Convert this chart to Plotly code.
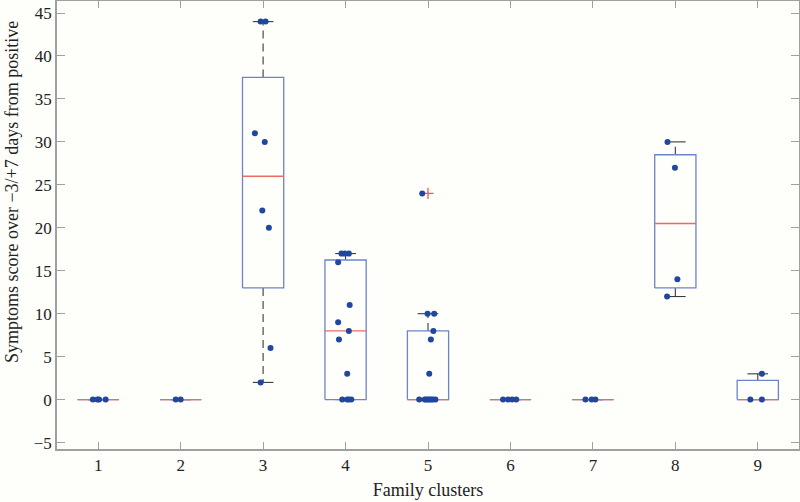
import numpy as np
import plotly.graph_objects as go

clusters = [1, 2, 3, 4, 5, 6, 7, 8, 9]
scores = [
    [0, 0, 0, 0],
    [0, 0],
    [44, 44, 31, 30, 22, 20, 6, 2],
    [17, 17, 17, 16, 11, 9, 8, 7, 3, 0, 0, 0, 0],
    [24, 10, 10, 8, 7, 3, 0, 0, 0, 0, 0, 0, 0, 0],
    [0, 0, 0, 0],
    [0, 0, 0],
    [30, 27, 14, 12],
    [3, 0, 0],
]
jitter = [
    [-0.065, -0.01, 0.01, 0.09],
    [-0.06, 0.0],
    [-0.03, 0.03, -0.1, 0.02, -0.01, 0.07, 0.09, -0.03],
    [-0.05, -0.01, 0.04, -0.09, 0.05, -0.09, 0.04, -0.08, 0.02, -0.04, 0.02, 0.04, 0.07],
    [-0.07, -0.005, 0.075, 0.065, 0.035, 0.015, -0.107, -0.04, -0.02, 0.0, 0.02, 0.04, 0.06, 0.09],
    [-0.09, -0.03, 0.02, 0.07],
    [-0.09, -0.015, 0.03],
    [-0.095, -0.005, 0.025, -0.1],
    [0.05, -0.09, 0.05],
]
x_ticks = [1, 2, 3, 4, 5, 6, 7, 8, 9]
y_ticks = [-5, 0, 5, 10, 15, 20, 25, 30, 35, 40, 45]


def mquantile(v, p):
    s = np.sort(np.asarray(v, dtype=float))
    n = len(s)
    pos = n * p + 0.5
    pos = min(max(pos, 1), n)
    lo = int(np.floor(pos))
    hi = min(lo + 1, n)
    f = pos - lo
    return s[lo - 1] + f * (s[hi - 1] - s[lo - 1])


BOX_HALF = 0.25
CAP_HALF = 0.125
box_x, box_y = [], []
wh_x, wh_y = [], []
cap_x, cap_y = [], []
med_x, med_y = [], []
out_x, out_y = [], []
for c, v in zip(clusters, scores):
    a = np.asarray(v, dtype=float)
    q1, med, q3 = mquantile(a, 0.25), mquantile(a, 0.5), mquantile(a, 0.75)
    iqr = q3 - q1
    inside = a[(a >= q1 - 1.5 * iqr) & (a <= q3 + 1.5 * iqr)]
    lw, uw = inside.min(), inside.max()
    outs = a[(a < q1 - 1.5 * iqr) | (a > q3 + 1.5 * iqr)]
    box_x += [c - BOX_HALF, c + BOX_HALF, c + BOX_HALF, c - BOX_HALF, c - BOX_HALF, None]
    box_y += [q1, q1, q3, q3, q1, None]
    wh_x += [c, c, None, c, c, None]
    wh_y += [q3, uw, None, q1, lw, None]
    cap_x += [c - CAP_HALF, c + CAP_HALF, None, c - CAP_HALF, c + CAP_HALF, None]
    cap_y += [uw, uw, None, lw, lw, None]
    med_x += [c - BOX_HALF, c + BOX_HALF, None]
    med_y += [med, med, None]
    for o in outs:
        out_x.append(c)
        out_y.append(o)

pts_x, pts_y = [], []
for c, v, j in zip(clusters, scores, jitter):
    for val, off in zip(v, j):
        pts_x.append(c + off)
        pts_y.append(val)

fig = go.Figure()
fig.add_trace(go.Scatter(x=wh_x, y=wh_y, mode="lines",
                         line=dict(color="#3a3a3a", width=1.1, dash="8px,5px"),
                         hoverinfo="skip", showlegend=False))
fig.add_trace(go.Scatter(x=cap_x, y=cap_y, mode="lines",
                         line=dict(color="#3a3a3a", width=1.1),
                         hoverinfo="skip", showlegend=False))
fig.add_trace(go.Scatter(x=box_x, y=box_y, mode="lines",
                         line=dict(color="#6d84c9", width=1.3),
                         hoverinfo="skip", showlegend=False))
fig.add_trace(go.Scatter(x=med_x, y=med_y, mode="lines",
                         line=dict(color="#ec6a5e", width=1.3),
                         hoverinfo="skip", showlegend=False))
fig.add_trace(go.Scatter(x=out_x, y=out_y, mode="markers",
                         marker=dict(symbol="cross-thin", size=8,
                                     line=dict(color="#ee5a5a", width=1.3)),
                         hoverinfo="skip", showlegend=False))
fig.add_trace(go.Scatter(x=pts_x, y=pts_y, mode="markers",
                         marker=dict(color="#1f479f", size=6),
                         showlegend=False))

tick_font = dict(family="Liberation Serif", size=17, color="#222222")
title_font = dict(family="Liberation Serif", size=18, color="#222222")
fig.update_layout(
    width=800, height=502,
    margin=dict(l=57, r=1, t=1, b=53, autoexpand=False),
    paper_bgcolor="#fefefa",
    plot_bgcolor="#fefefa",
    font=tick_font,
    xaxis=dict(range=[0.5, 9.5], tickvals=x_ticks, ticktext=[str(t) for t in x_ticks],
               ticks="inside", ticklen=7, tickcolor="#a0a0a0", tickwidth=1,
               showline=True, linecolor="#a0a0a0", linewidth=1.5, mirror="ticks",
               showgrid=False, zeroline=False, tickfont=tick_font, automargin=False,
               title=dict(text="Family clusters", font=title_font, standoff=9)),
    yaxis=dict(range=[-5.75, 46.4], tickvals=y_ticks,
               ticks="inside", ticklen=8, tickcolor="#a0a0a0", tickwidth=1,
               showline=True, linecolor="#a0a0a0", linewidth=1.5, mirror="ticks",
               showgrid=False, zeroline=False, tickfont=tick_font, automargin=False),
    annotations=[dict(text="Symptoms score over −3/+7 days from positive",
                      xref="paper", yref="paper", x=-0.0606, y=0.5737,
                      xanchor="center", yanchor="middle", textangle=-90,
                      showarrow=False, font=title_font)],
)
post = ("document.body.style.margin='0';"
        "document.body.style.padding='0';"
        "document.body.style.overflow='hidden';"
        "document.body.style.background='#fefefa';")
fig.write_html("out.html", post_script=post,
               config={"responsive": False, "displayModeBar": False})
